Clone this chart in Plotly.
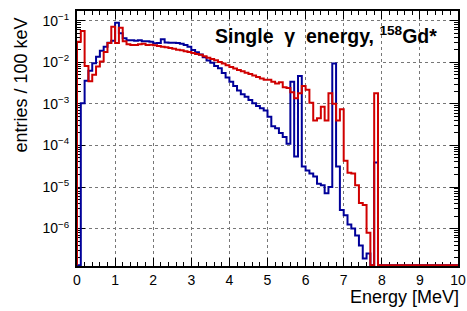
import numpy as np
import plotly.graph_objects as go

# ---- data (entries / 100 keV), 100 bins of 0.1 MeV from 0 to 10 MeV ----
energy_edges = np.round(np.arange(0, 101) * 0.1, 1)

blue_counts = [
    0, 0.00103, 0.0036, 0.0063, 0.0095, 0.0136, 0.019, 0.0237, 0.0295, 0.033,
    0.0895, 0.050, 0.038, 0.034, 0.034, 0.033, 0.034, 0.032, 0.032, 0.031,
    0.0286, 0.029, 0.036, 0.030, 0.0296, 0.0296, 0.029, 0.028, 0.026, 0.0237,
    0.0198, 0.0175, 0.0155, 0.0132, 0.011, 0.0098, 0.0082, 0.0072, 0.0055, 0.0043,
    0.0034, 0.0027, 0.0021, 0.0017, 0.00149, 0.00124, 0.00103, 0.00089, 0.00078, 0.00069,
    0.00049, 0.00029, 0.00026, 0.00020, 0.00016, 0.00011, 0.0034, 0.000054, 0.0047, 0.000031,
    0.000025, 0.000021, 0.000018, 0.000012, 0.000011, 0.0000071, 0.00001, 0.0094, 0.000031, 0.0000028,
    0.0000021, 0.00000125, 0.000001, 6.8e-7, 3.9e-7, 1.9e-7, 2.5e-7, 0, 3.9e-5, 0,
    0, 0, 0, 0, 0, 0, 0, 0, 0, 0,
    0, 0, 0, 0, 0, 0, 0, 0, 0, 0,
]

red_counts = [
    0.031, 0.057, 0.0081, 0.0035, 0.005, 0.0079, 0.0104, 0.0177, 0.029, 0.072,
    0.029, 0.068, 0.032, 0.027, 0.026, 0.026, 0.027, 0.028, 0.026, 0.0265,
    0.0257, 0.0247, 0.0237, 0.0229, 0.022, 0.0212, 0.0201, 0.0194, 0.0185, 0.0177,
    0.0168, 0.0159, 0.0151, 0.0139, 0.0129, 0.0120, 0.0112, 0.0101, 0.0093, 0.0085,
    0.0077, 0.0071, 0.0065, 0.0061, 0.0056, 0.0052, 0.0048, 0.0044, 0.0041, 0.0038,
    0.0038, 0.0034, 0.0031, 0.0033, 0.0025, 0.0024, 0.0019, 0.00136, 0.0018, 0.0027,
    0.0022, 0.00107, 0.0004, 0.00045, 0.00085, 0.0004, 0.0018, 0.001, 0.0004, 0.00074,
    0.000043, 0.000022, 0.000021, 0.000011, 0.0000041, 0.0000037, 7.9e-7, 0, 0.0018, 0,
    0, 0, 0, 0, 0, 0, 0, 0, 0, 0,
    0, 0, 0, 0, 0, 0, 0, 0, 0, 0,
]

x_tick_vals = list(range(0, 11))
y_decades = [-6, -5, -4, -3, -2, -1]
y_tick_text = ["10<sup>\u2212%d</sup>" % (-d) for d in y_decades]

Y_LOG_RANGE = [-6.9, -0.766]
floor_val = 10 ** (Y_LOG_RANGE[0] + 0.02)

FONT = "Liberation Sans, Arial, Helvetica, sans-serif"


def step_xy(counts):
    vals = [c if c > floor_val else floor_val for c in counts]
    xs = [float(energy_edges[0])] + [float(e) for e in energy_edges[:-1]] + [float(energy_edges[-1])]
    ys = [floor_val] + vals + [vals[-1]]
    return xs, ys


fig = go.Figure()
bx, by = step_xy(blue_counts)
rx, ry = step_xy(red_counts)
fig.add_trace(go.Scatter(x=bx, y=by, mode="lines", line=dict(color="#000099", width=2, shape="hv"),
                         showlegend=False, hoverinfo="skip"))
fig.add_trace(go.Scatter(x=rx, y=ry, mode="lines", line=dict(color="#d00000", width=2, shape="hv"),
                         showlegend=False, hoverinfo="skip"))

minor_y = [d * 10.0 ** k for k in range(-7, 0) for d in range(2, 10)]

fig.update_layout(
    width=467, height=311,
    margin=dict(l=77, r=9, t=11, b=45, autoexpand=False),
    paper_bgcolor="white", plot_bgcolor="white",
    font=dict(family=FONT, size=13, color="black"),
    xaxis=dict(
        range=[0, 10], tickmode="array", tickvals=x_tick_vals,
        ticks="inside", ticklen=8, tickwidth=1, tickcolor="black",
        showline=True, linewidth=2, linecolor="black", mirror="ticks",
        showgrid=True, gridcolor="#777777", gridwidth=1, griddash="dot",
        zeroline=False, layer="below traces", automargin=False,
        minor=dict(ticks="inside", ticklen=4, dtick=0.2, tick0=0, tickcolor="black", showgrid=False),
        tickfont=dict(size=14),
    ),
    yaxis=dict(
        type="log", range=Y_LOG_RANGE,
        tickmode="array", tickvals=[10.0 ** d for d in y_decades], ticktext=y_tick_text,
        ticks="inside", ticklen=8, tickwidth=1, tickcolor="black",
        showline=True, linewidth=2, linecolor="black", mirror="ticks",
        showgrid=True, gridcolor="#777777", gridwidth=1, griddash="dot",
        zeroline=False, layer="below traces", automargin=False,
        minor=dict(ticks="inside", ticklen=4, tickmode="array", tickvals=minor_y,
                   tickcolor="black", showgrid=False),
        tickfont=dict(size=14), ticklabelstandoff=3,
    ),
)

fig.add_annotation(
    text="entries / 100 keV", xref="paper", yref="paper",
    x=-57 / 381, y=(266 - 15) / 255, xanchor="center", yanchor="top",
    textangle=-90, showarrow=False, font=dict(family=FONT, size=18),
)
fig.add_annotation(
    text="Energy [MeV]", xref="paper", yref="paper",
    x=1.008, y=(266 - 297) / 255, xanchor="right", yanchor="middle",
    showarrow=False, font=dict(family=FONT, size=18),
)
fig.add_annotation(
    text="<b>Single\u00a0\u00a0\u03b3\u00a0\u00a0energy, <sup>158</sup>Gd*</b>", xref="paper", yref="paper",
    x=(213 - 77) / 381, y=(266 - 35) / 255, xanchor="left", yanchor="middle",
    showarrow=False, font=dict(family=FONT, size=19.5),
)

fig.write_html(
    "out.html",
    config={"displayModeBar": False, "staticPlot": True},
    post_script="document.body.style.margin='0';document.body.style.padding='0';",
)
